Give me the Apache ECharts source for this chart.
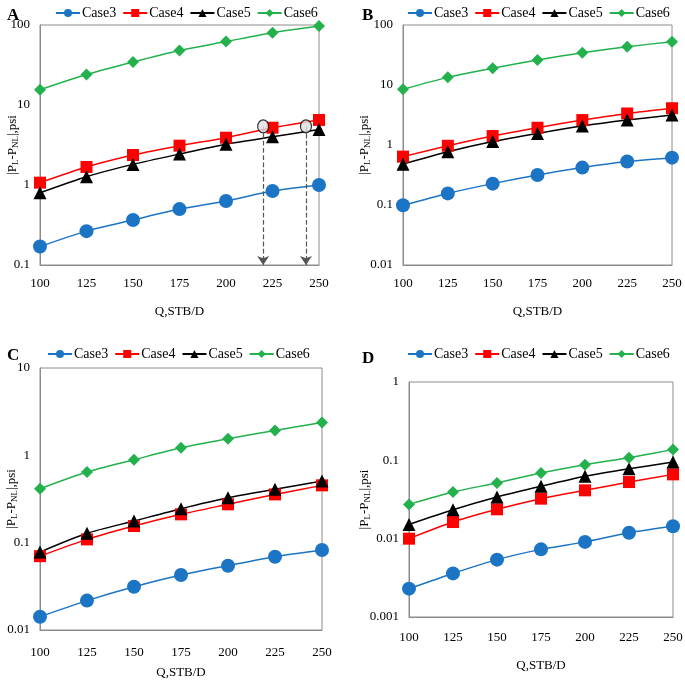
<!DOCTYPE html>
<html>
<head>
<meta charset="utf-8">
<script src="https://cdn.jsdelivr.net/npm/echarts@6/dist/echarts.min.js"></script>
<style>
	html, body { margin: 0; padding: 0; background: #fff; }
	#main { width: 685px; height: 682px; }
</style>
</head>
<body>
<div id="main"></div>
<script>
// flow rates (x axis)
var rates = [100, 125, 150, 175, 200, 225, 250];
var caseNames = ['Case3', 'Case4', 'Case5', 'Case6'];

// panel A
var aCase3 = [0.17, 0.265, 0.365, 0.5, 0.63, 0.84, 1.0];
var aCase4 = [1.07, 1.68, 2.37, 3.1, 3.9, 5.2, 6.5];
var aCase5 = [0.80, 1.27, 1.81, 2.44, 3.24, 4.0, 4.95];
var aCase6 = [15.5, 24, 34.5, 48, 62, 80, 97];
// panel B
var bCase3 = [0.099, 0.156, 0.227, 0.316, 0.42, 0.53, 0.615];
var bCase4 = [0.64, 0.97, 1.41, 1.94, 2.6, 3.35, 4.1];
var bCase5 = [0.48, 0.77, 1.14, 1.56, 2.07, 2.6, 3.15];
var bCase6 = [8.5, 13.4, 19, 26, 34.5, 43.5, 52.5];
// panel C
var cCase3 = [0.0142, 0.0217, 0.0313, 0.0426, 0.0545, 0.069, 0.0824];
var cCase4 = [0.070, 0.109, 0.155, 0.211, 0.275, 0.357, 0.453];
var cCase5 = [0.078, 0.128, 0.177, 0.245, 0.327, 0.408, 0.508];
var cCase6 = [0.415, 0.645, 0.89, 1.22, 1.55, 1.93, 2.37];
// panel D
var dCase3 = [0.0023, 0.0036, 0.0054, 0.0073, 0.0091, 0.0119, 0.0144];
var dCase4 = [0.010, 0.0163, 0.0237, 0.0324, 0.0414, 0.0528, 0.0662];
var dCase5 = [0.0152, 0.0234, 0.034, 0.0466, 0.0625, 0.078, 0.095];
var dCase6 = [0.0274, 0.0394, 0.0514, 0.069, 0.088, 0.108, 0.137];

// y-axis ranges per panel
var yMins = [0.1, 0.01, 0.01, 0.001];
var yMaxs = [100, 100, 10, 1];
var panelLetters = ['A', 'B', 'C', 'D'];

// annotation in panel A (circled points with dashed arrows)
var annotQ = [220, 243];
var annotP = [5.4, 5.4];

var panelData = [
	[aCase3, aCase4, aCase5, aCase6],
	[bCase3, bCase4, bCase5, bCase6],
	[cCase3, cCase4, cCase5, cCase6],
	[dCase3, dCase4, dCase5, dCase6]
];

var chartDom = document.getElementById('main');
var myChart = echarts.init(chartDom);
var option;

var font = 'Liberation Serif';
var colors = ['#1C74C4', '#FF0000', '#000000', '#22B14C'];
var symbols = ['circle', 'rect', 'triangle', 'diamond'];
var symbolSizes = [14, 12, 13, 12];

var grids = [
	{ left: 40, right: 366, top: 25, bottom: 417 },
	{ left: 403, right: 13, top: 25, bottom: 417 },
	{ left: 40, right: 363, top: 368, bottom: 52 },
	{ left: 409, right: 12, top: 382, bottom: 65 }
];
var legendPos = [
	{ left: 50, top: 1 },
	{ left: 402, top: 1 },
	{ left: 42, top: 342 },
	{ left: 402, top: 342 }
];
var letterPos = [
	{ left: 2, top: 2 },
	{ left: 357, top: 2 },
	{ left: 2, top: 342 },
	{ left: 357, top: 345 }
];
var xLabelMargins = [12, 12, 16, 14];
var xNameGaps = [40, 40, 36, 42];
var yNameGaps = [20, 31, 21, 37];

var xAxes = [], yAxes = [], series = [], legends = [], titles = [];

grids.forEach(function (g) {
	g.show = true;
	g.borderColor = '#8c8c8c';
	g.borderWidth = 1;
	g.containLabel = false;
	g.outerBoundsMode = 'none';
});

for (var p = 0; p < 4; p++) {
	xAxes.push({
		type: 'value',
		gridIndex: p,
		min: 100,
		max: 250,
		interval: 25,
		name: 'Q,STB/D',
		nameLocation: 'middle',
		nameGap: xNameGaps[p],
		nameMoveOverlap: false,
		nameTextStyle: { fontFamily: font, fontSize: 13, color: '#000' },
		axisLine: { lineStyle: { color: '#8c8c8c' } },
		axisTick: { show: false },
		splitLine: { show: false },
		axisLabel: { fontFamily: font, fontSize: 13, color: '#000', margin: xLabelMargins[p] }
	});
	yAxes.push({
		type: 'log',
		logBase: 10,
		gridIndex: p,
		min: yMins[p],
		max: yMaxs[p],
		name: '|P{s|L}-P{s|NL}|,psi',
		nameLocation: 'middle',
		nameGap: yNameGaps[p],
		nameMoveOverlap: false,
		nameTextStyle: {
			fontFamily: font, fontSize: 13, color: '#000',
			rich: {
				s: { fontFamily: font, fontSize: 9, color: '#000', verticalAlign: 'bottom', padding: [6, 0, 0, 0] }
			}
		},
		axisLine: { show: true, lineStyle: { color: '#8c8c8c' } },
		axisTick: { show: false },
		splitLine: { show: false },
		axisLabel: {
			fontFamily: font, fontSize: 13, color: '#000', margin: 10,
			formatter: function (v) { return String(+v.toPrecision(3)); }
		}
	});
	legends.push({
		data: caseNames,
		left: legendPos[p].left,
		top: legendPos[p].top,
		itemWidth: 24,
		itemHeight: 10,
		itemGap: 6,
		textStyle: { fontFamily: font, fontSize: 14, color: '#000', padding: [0, 0, 0, -3] }
	});
	titles.push({
		text: panelLetters[p],
		left: letterPos[p].left,
		top: letterPos[p].top,
		textStyle: { fontFamily: font, fontSize: 17, fontWeight: 'bold', color: '#000' }
	});
	for (var c = 0; c < 4; c++) {
		var vals = panelData[p][c];
		series.push({
			name: caseNames[c],
			type: 'line',
			xAxisIndex: p,
			yAxisIndex: p,
			smooth: 0.25,
			symbol: symbols[c],
			symbolSize: symbolSizes[c],
			itemStyle: { color: colors[c] },
			lineStyle: { color: colors[c], width: 1.5 },
			data: rates.map(function (q, i) { return [q, vals[i]]; })
		});
	}
}

// circled points + dashed arrows in panel A
series.push({
	name: 'annot',
	type: 'scatter',
	xAxisIndex: 0,
	yAxisIndex: 0,
	symbol: 'circle',
	symbolSize: [11, 13],
	z: 5,
	itemStyle: {
		color: '#e0e0e0', borderColor: '#000', borderWidth: 1.2,
		decal: { symbol: 'rect', symbolSize: 1, dashArrayX: [1, 2], dashArrayY: [1, 2], color: 'rgba(0,0,0,0.6)' }
	},
	data: annotQ.map(function (q, i) { return [q, annotP[i]]; }),
	markLine: {
		silent: true,
		symbol: ['none', 'arrow'],
		symbolSize: 9,
		label: { show: false },
		lineStyle: { type: 'dashed', color: '#555', width: 1.2 },
		data: annotQ.map(function (q, i) {
			return [{ coord: [q, annotP[i]] }, { coord: [q, yMins[0]] }];
		})
	}
});

option = {
	backgroundColor: '#fff',
	animation: false,
	aria: { enabled: false },
	title: titles,
	legend: legends,
	grid: grids,
	xAxis: xAxes,
	yAxis: yAxes,
	series: series
};

option && myChart.setOption(option);
</script>
</body>
</html>
